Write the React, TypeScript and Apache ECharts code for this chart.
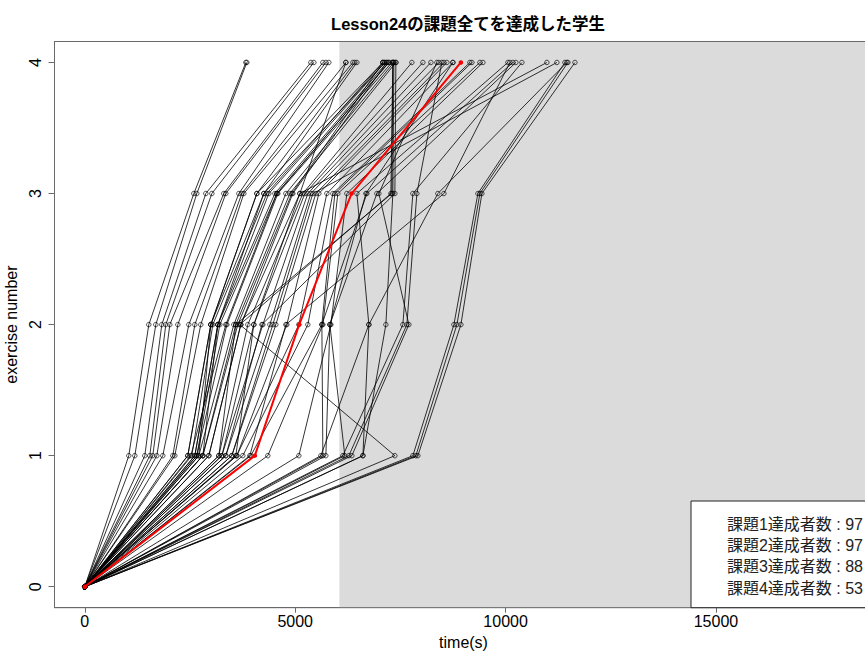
import React, { useEffect, useRef } from "react";
import * as echarts from "echarts";

// ---- data ----
const exerciseLevels = [0, 1, 2, 3, 4];
const xTickValues = [0, 5000, 10000, 15000];
// time (s) at which each student completed exercise 1..4 (students who completed all)
const t1 = [1046, 1189, 1426, 1545, 1616, 1712, 1854, 2092, 2139, 2448, 2448, 2543, 2615, 2615, 2662, 2662, 2710, 2805, 2805, 2948, 2948, 3185, 3257, 3257, 3352, 3494, 3494, 3613, 3613, 3756, 3946, 4350, 5087, 5610, 5658, 5729, 7369, 6133, 6276, 6347, 6609, 6609, 7797, 7868, 7916, 6180, 3922, 3589, 3185, 2710, 2805, 2519, 3352];
const t2 = [1521, 1688, 1830, 1925, 2021, 2211, 2472, 2615, 2757, 2995, 2995, 3043, 3162, 3162, 3209, 3376, 3542, 3589, 3637, 3708, 3708, 3875, 4017, 4231, 4398, 4469, 4540, 4802, 5087, 5301, 5634, 5658, 5848, 6751, 5634, 5824, 3685, 7559, 7654, 7702, 7155, 6751, 8772, 8843, 8938, 5824, 4778, 4017, 3589, 2995, 3162, 3352, 4208];
const t3 = [2591, 2662, 2876, 3019, 3304, 3352, 3661, 3732, 3780, 4089, 4255, 4327, 4374, 4517, 4564, 4588, 4778, 4873, 4921, 4944, 5111, 5182, 5230, 5301, 5372, 5420, 5491, 5562, 5753, 5895, 5943, 6014, 6228, 6466, 6703, 6941, 7274, 7797, 7892, 6989, 7321, 8391, 9342, 9390, 9437, 6680, 8534, 5111, 7298, 4089, 4255, 4564, 7369];
const t4 = [3827, 3851, 5372, 5444, 5658, 5729, 5800, 6204, 6371, 6418, 6466, 7084, 7132, 7179, 7227, 7298, 7345, 7393, 7084, 7179, 10982, 7773, 8035, 8225, 8415, 11220, 8534, 8606, 8748, 9152, 9200, 9390, 9461, 10055, 10174, 10245, 7321, 10388, 8486, 8367, 7345, 11457, 11410, 11481, 11648, 8748, 10103, 6204, 7321, 7084, 7132, 7227, 7393];
// highlighted (red) path
const meanTimes = [0, 4041, 5094, 6340, 8938];
const achievedCounts = [97, 97, 88, 53];
const legendLabels = achievedCounts.map((n, i) => `課題${i + 1}達成者数 : ${n}`);
const shadeStart = 6050;
const xMin = -720;
const xMax = 18720;
const yMin = -0.16;
const yMax = 4.16;

const TITLE = "Lesson24の課題全てを達成した学生";
const FONT = "'Liberation Sans', Arial, 'Noto Sans CJK JP', sans-serif";
const BOX = "#6a6a6a";

export default function App() {
  const ref = useRef<HTMLDivElement>(null);
  useEffect(() => {
    if (!ref.current) return;
    const chart = echarts.init(ref.current, null, { renderer: "svg" });

    const studentSeries = t1.map((_, i) => ({
      type: "line",
      data: [
        [0, exerciseLevels[0]],
        [t1[i], exerciseLevels[1]],
        [t2[i], exerciseLevels[2]],
        [t3[i], exerciseLevels[3]],
        [t4[i], exerciseLevels[4]],
      ],
      symbol: "circle",
      symbolSize: 4.5,
      showSymbol: true,
      silent: true,
      z: 3,
      lineStyle: { color: "#000", width: 0.8 },
      itemStyle: { color: "rgba(0,0,0,0)", borderColor: "#000", borderWidth: 0.7 },
    }));

    const option: any = {
      animation: false,
      backgroundColor: "#fff",
      title: {
        text: TITLE,
        left: 463,
        top: 11,
        textAlign: "center",
        textStyle: { fontSize: 16.5, fontWeight: "bold", color: "#000", fontFamily: FONT },
      },
      grid: {
        left: 54.5,
        top: 41.5,
        right: -7.5,
        bottom: 46.3,
        containLabel: false,
        outerBoundsMode: "none",
        show: true,
        borderColor: BOX,
        borderWidth: 1,
        backgroundColor: "transparent",
        z: 10,
      },
      xAxis: {
        type: "value",
        min: xMin,
        max: xMax,
        position: "bottom",
        name: "time(s)",
        nameLocation: "middle",
        nameGap: 26,
        nameTextStyle: { fontSize: 16, color: "#000", fontFamily: FONT },
        axisLine: { show: true, onZero: false, lineStyle: { color: BOX, width: 1 } },
        splitLine: { show: false },
        axisTick: { show: true, length: 5, customValues: xTickValues, lineStyle: { color: BOX } },
        axisLabel: {
          customValues: xTickValues,
          formatter: (v: number) => String(v),
          fontSize: 16,
          color: "#000",
          margin: 6,
          fontFamily: FONT,
        },
      },
      yAxis: {
        type: "value",
        min: yMin,
        max: yMax,
        position: "left",
        name: "exercise number",
        nameLocation: "middle",
        nameGap: 33,
        nameTextStyle: { fontSize: 16, color: "#000", fontFamily: FONT },
        axisLine: { show: true, onZero: false, lineStyle: { color: BOX, width: 1 } },
        splitLine: { show: false },
        axisTick: { show: true, length: 6, customValues: exerciseLevels, lineStyle: { color: BOX } },
        axisLabel: {
          customValues: exerciseLevels,
          formatter: (v: number) => String(v),
          fontSize: 16,
          color: "#000",
          rotate: 90,
          margin: 11,
          fontFamily: FONT,
        },
      },
      series: [
        {
          type: "line",
          data: [],
          z: 1,
          silent: true,
          markArea: {
            silent: true,
            itemStyle: { color: "#dbdbdb", opacity: 1 },
            data: [[{ xAxis: shadeStart, yAxis: yMin }, { xAxis: xMax, yAxis: yMax }]],
          },
        },
        ...studentSeries,
        {
          type: "line",
          data: meanTimes.map((t, i) => [t, exerciseLevels[i]]),
          symbol: "circle",
          symbolSize: 4.5,
          z: 5,
          silent: true,
          lineStyle: { color: "#ff0000", width: 2 },
          itemStyle: { color: "#ff0000" },
        },
      ],
      graphic: [
        {
          type: "rect",
          z: 100,
          shape: { x: 691, y: 501, width: 200, height: 106.7 },
          style: { fill: "#fff", stroke: "#222", lineWidth: 1 },
        },
        ...legendLabels.map((txt, i) => ({
          type: "text",
          z: 101,
          x: 863,
          y: 524.5 + i * 21.2,
          style: {
            text: txt,
            fontSize: 16,
            fill: "#222",
            align: "right",
            verticalAlign: "middle",
            fontFamily: FONT,
          },
        })),
      ],
    };
    chart.setOption(option);
    return () => chart.dispose();
  }, []);

  return (
    <div
      ref={ref}
      style={{ position: "fixed", left: 0, top: 0, width: 865, height: 654, background: "#fff" }}
    />
  );
}
